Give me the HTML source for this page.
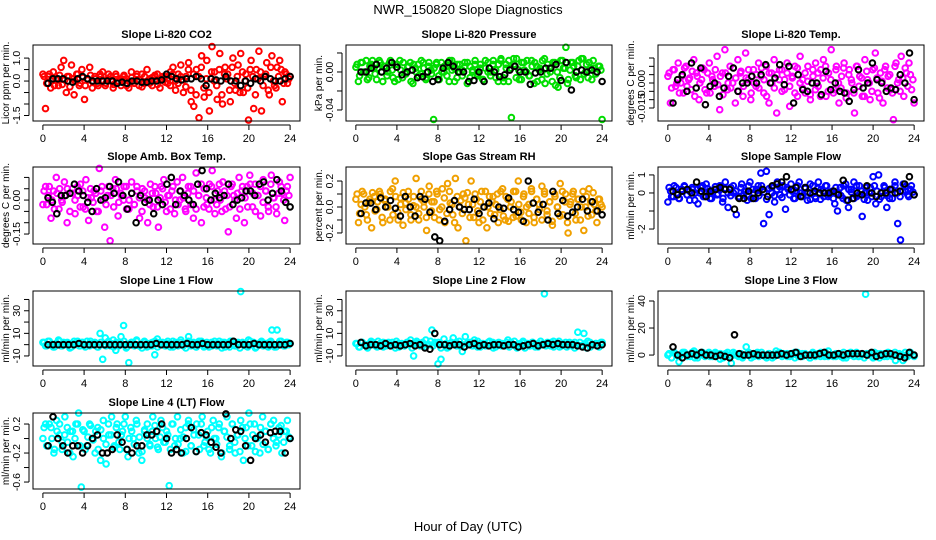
<!DOCTYPE html>
<html><head><meta charset="utf-8"><title>NWR_150820 Slope Diagnostics</title>
<style>
body{margin:0;background:#fff;}
svg{display:block;font-family:"Liberation Sans",sans-serif;}
</style></head>
<body>
<svg id="chart" width="936" height="540" viewBox="0 0 936 540" xmlns="http://www.w3.org/2000/svg">
<rect x="0" y="0" width="936" height="540" fill="#fff"/>
<text x="468" y="14" text-anchor="middle" font-size="13">NWR_150820  Slope Diagnostics</text>
<text x="468" y="531" text-anchor="middle" font-size="13">Hour of Day (UTC)</text>
</svg>
<script>
const xTicks = [0,4,8,12,16,20,24];
const panelTitles = ["Slope Li-820 CO2","Slope Li-820 Pressure","Slope Li-820 Temp.","Slope Amb. Box Temp.","Slope Gas Stream RH","Slope Sample Flow","Slope Line 1 Flow","Slope Line 2 Flow","Slope Line 3 Flow","Slope Line 4 (LT) Flow"];
const yTitles = ["Licor ppm per min.","kPa per min.","degrees C per min.","degrees C per min.","percent per min.","ml/min per min.","ml/min per min.","ml/min per min.","ml/min per min.","ml/min per min."];
const yRanges = [[-1.74,1.57],[-0.0516,0.0284],[-0.0228,0.0228],[-0.194,0.146],[-0.285,0.308],[-2.83,1.44],[-18.9,47.5],[-18.9,47.5],[-8.1,47.4],[-0.696,0.352]];
const yTickVals = [[-1.5,-1,-0.5,0,0.5,1],[-0.04,-0.02,0,0.02],[-0.015,-0.01,-0.005,0,0.005,0.01,0.015],[-0.15,-0.1,-0.05,0,0.05,0.1],[-0.2,-0.1,0,0.1,0.2],[-2,-1,0,1],[-10,0,10,20,30,40],[-10,0,10,20,30,40],[0,20,40],[-0.6,-0.4,-0.2,0,0.2]];
const yTickLabels = [["-1.5","","","0.0","","1.0"],["-0.04","","0.00",""],["-0.015","","","0.000","","",""],["-0.15","","","0.00","",""],["-0.2","","0.0","","0.2"],["-2","","0","1"],["-10","","10","","30",""],["-10","","10","","30",""],["0","20","40"],["-0.6","","-0.2","","0.2"]];
const colors = ["#ff0000","#00dd00","#ff00ff","#ff00ff","#f0a000","#0000ff","#00ffff","#00ffff","#00ffff","#00ffff"];

const co2Vals = [0.3,-1.2,0.2,-0.3,0.4,0.1,-0.2,0.6,0.9,-0.5,0.2,0.7,-0.6,0.3,-0.2,0.5,-0.8,0.1,0.6,-0.3,0.2,-0.1,0.3,0.4,-0.2,0.1,0.2,-0.3,0.3,0.0,-0.2,0.2,0.1,-0.3,0.4,0.0,0.2,-0.2,0.3,-0.1,0.5,0.1,-0.2,0.2,0.3,-0.3,0.1,0.2,-0.1,0.4,0.6,-0.4,0.3,0.7,-0.5,0.2,0.8,-0.9,-1.1,0.5,-1.6,1.1,-0.7,0.9,-1.3,1.5,0.4,-0.8,1.2,-1.0,0.6,0.3,-0.9,1.0,-0.4,0.7,1.2,-0.5,0.3,-1.7,0.9,-1.2,0.5,1.3,-1.3,0.2,0.8,-0.6,1.1,-0.2,0.6,0.9,-0.9,0.4,-0.1,0.2];
const co2Band = [0.2,-0.1,0.3,0.0,-0.2,0.1,0.25,-0.15,0.05,0.2,-0.25,0.1,0.0,0.3,-0.1,0.15,-0.2,0.05,0.25,-0.05,0.1,-0.2,0.2,0.0,-0.1,0.3,0.05,-0.15,0.2,-0.05,0.1,0.25,-0.2,0.0,0.15,-0.1,0.3,0.05,-0.25,0.2,0.0,-0.1,0.15,0.25,-0.15,0.05,0.2,-0.05,0.1,-0.2,0.3,0.0,-0.1,0.2,0.05,-0.25,0.5,-0.4,0.3,-0.6,0.2,0.6,-0.3,0.1,-0.5,0.4,0.0,-0.2,0.5,-0.6,0.3,0.1,-0.4,0.6,-0.1,0.2,-0.5,0.4,0.0,-0.3,0.5,0.2,-0.6,0.1,0.4,-0.2,0.3,-0.4,0.6,0.0,-0.3,0.2,0.5,-0.1,0.3,0.1];
const co2Black = [-0.1,0.1,0.1,0.1,0.0,-0.05,0.1,0.2,0.1,0.0,0.0,0.0,0.0,0.0,-0.1,-0.05,-0.1,0.0,0.0,-0.05,-0.05,0.0,0.0,0.05,0.3,0.2,0.1,0.05,0.1,0.1,0.2,0.1,-0.2,0.1,0.05,0.0,0.2,0.0,0.0,-0.2,0.0,-0.1,0.1,0.0,0.2,0.1,0.0,0.0,0.1,0.2];
const presVals = [0.005,-0.01,0.01,0.0,0.012,-0.006,0.008,0.004,-0.008,0.012,0.0,0.006,-0.004,0.01,0.002,-0.01,0.008,0.012,-0.006,0.0,0.005,0.01,-0.012,0.004,0.008,-0.002,0.01,-0.008,0.006,0.002,-0.05,0.008,-0.004,0.01,0.0,0.006,-0.01,0.012,0.004,-0.006,0.008,0.002,0.01,-0.012,0.006,0.0,0.012,-0.004,0.008,-0.008,0.004,0.01,0.0,0.012,-0.006,0.008,0.014,-0.01,0.004,0.012,-0.048,0.008,0.014,-0.008,0.01,0.002,0.012,-0.004,0.006,0.01,-0.01,0.004,0.012,-0.012,0.008,0.0,0.01,-0.014,-0.016,0.012,0.004,0.026,-0.008,0.01,0.006,-0.006,0.012,0.014,-0.002,0.008,0.01,-0.008,0.004,0.0,0.006,-0.05];
const presBand = [0.008,-0.004,0.01,0.0,-0.008,0.006,0.012,-0.002,0.004,0.01,-0.01,0.006,0.0,0.012,-0.006,0.008,-0.008,0.002,0.01,-0.002,0.006,-0.01,0.008,0.0,-0.004,0.012,0.004,-0.006,0.01,-0.002,0.004,0.01,-0.008,0.0,0.006,-0.004,0.012,0.002,-0.01,0.008,0.0,-0.004,0.006,0.01,-0.006,0.002,0.008,-0.002,0.004,-0.008,0.012,0.0,-0.004,0.008,0.002,-0.01,0.012,-0.006,0.008,-0.01,0.004,0.014,-0.006,0.002,-0.008,0.01,0.0,-0.004,0.012,-0.012,0.006,0.002,-0.008,0.014,-0.002,0.004,-0.01,0.01,0.0,-0.006,0.012,0.004,-0.012,0.002,0.01,-0.004,0.006,-0.008,0.014,0.0,-0.006,0.004,0.012,-0.002,0.006,0.002];
const presBlack = [0.0,0.0,0.004,0.008,0.0,0.004,0.01,0.005,-0.003,0.0,0.002,-0.006,-0.005,0.0,-0.01,-0.008,0.004,0.01,0.006,0.0,0.0,-0.01,-0.009,0.0,-0.01,0.004,0.0,-0.005,-0.003,0.002,0.006,0.0,0.0,-0.013,-0.001,0.0,0.004,0.004,0.008,-0.009,0.01,-0.019,0.0,0.002,0.0,0.002,0.0,-0.01];
const tempVals = [0.004,-0.012,0.008,-0.002,0.012,0.0,-0.006,0.01,0.002,-0.004,0.014,0.006,-0.01,0.002,0.008,-0.006,0.012,0.004,-0.002,0.016,-0.016,0.006,0.02,-0.004,0.01,0.0,-0.012,0.014,0.006,-0.008,0.018,0.002,-0.01,0.008,-0.002,0.012,0.004,-0.006,0.01,-0.012,0.006,0.014,-0.018,0.002,0.008,-0.004,0.012,-0.014,0.004,0.01,-0.008,0.016,0.002,-0.006,0.01,-0.01,0.004,0.012,-0.002,0.008,0.014,-0.008,0.006,0.02,-0.004,0.01,-0.012,0.004,0.012,-0.006,0.008,0.0,-0.018,0.01,0.004,-0.008,0.014,0.002,-0.01,0.008,0.018,-0.006,0.006,-0.012,0.01,0.004,-0.004,-0.022,0.012,0.002,0.016,-0.008,0.006,0.012,-0.004,-0.012];
const tempBand = [0.006,-0.003,0.008,0.0,-0.006,0.004,0.009,-0.002,0.003,0.007,-0.008,0.004,0.0,0.009,-0.004,0.006,-0.006,0.002,0.008,-0.001,0.004,-0.007,0.006,0.0,-0.003,0.009,0.003,-0.005,0.007,-0.002,0.003,0.008,-0.006,0.0,0.005,-0.003,0.009,0.002,-0.008,0.006,0.0,-0.003,0.005,0.008,-0.005,0.002,0.006,-0.002,0.003,-0.006,0.009,0.0,-0.003,0.006,0.001,-0.007,0.008,-0.004,0.006,-0.008,0.003,0.01,-0.005,0.002,-0.006,0.008,0.0,-0.003,0.009,-0.009,0.005,0.002,-0.006,0.01,-0.002,0.003,-0.008,0.007,0.0,-0.005,0.009,0.003,-0.009,0.001,0.008,-0.003,0.005,-0.006,0.01,0.0,-0.005,0.003,0.009,-0.002,0.005,0.002];
const tempBlack = [-0.012,0.002,0.005,-0.005,0.012,-0.003,0.009,-0.013,-0.002,0.0,-0.008,-0.003,0.004,0.009,-0.005,0.0,0.0,0.004,0.0,0.005,0.011,0.0,0.003,0.011,-0.001,0.01,-0.012,0.005,-0.004,-0.005,0.0,0.0,-0.007,0.007,-0.004,0.0,-0.005,-0.006,-0.011,-0.004,0.008,-0.003,0.0,0.012,0.002,0.0,-0.005,-0.003,-0.004,0.005,0.0,0.018,-0.01];
const ambVals = [-0.02,0.06,0.02,-0.08,0.04,0.1,-0.04,0.0,0.08,-0.1,0.03,0.05,-0.06,0.02,0.07,-0.03,0.09,-0.09,0.01,0.04,-0.05,0.14,0.06,-0.12,0.02,-0.18,0.05,0.09,-0.07,0.03,0.0,0.06,-0.04,0.08,-0.02,0.04,-0.08,0.05,0.01,-0.1,0.07,-0.03,0.03,-0.12,0.06,0.09,-0.05,0.02,0.04,-0.06,0.08,0.0,0.1,-0.04,0.03,0.06,-0.08,0.12,0.02,-0.1,0.05,-0.02,0.07,0.13,-0.06,0.04,0.0,0.08,-0.04,-0.14,0.06,0.02,-0.08,0.1,0.04,-0.1,0.06,0.11,-0.03,0.07,0.02,-0.07,0.09,0.04,-0.05,0.11,0.01,-0.06,0.08,0.03,-0.09,0.06,0.1];
const ambBand = [0.04,-0.02,0.06,0.0,-0.04,0.03,0.05,-0.01,0.02,0.05,-0.05,0.03,0.0,0.06,-0.03,0.04,-0.04,0.01,0.05,-0.01,0.03,-0.05,0.04,0.0,-0.02,0.06,0.02,-0.03,0.05,-0.01,0.02,0.06,-0.04,0.0,0.03,-0.02,0.06,0.01,-0.05,0.04,0.0,-0.02,0.03,0.06,-0.03,0.01,0.05,-0.01,0.02,-0.04,0.06,0.0,-0.02,0.04,0.01,-0.05,0.06,-0.02,0.04,-0.04,0.02,0.07,-0.03,0.01,-0.04,0.06,0.0,-0.02,0.07,-0.05,0.04,0.02,-0.03,0.07,0.0,0.03,-0.04,0.06,0.01,-0.03,0.07,0.03,-0.05,0.02,0.06,-0.01,0.04,-0.03,0.07,0.01,-0.03,0.03,0.06,0.0,0.04,0.02];
const ambBlack = [0.01,-0.01,-0.06,0.02,0.02,0.03,0.07,0.04,0.02,-0.01,-0.05,0.05,0.0,0.01,0.06,0.03,0.08,0.02,-0.04,0.03,-0.1,0.02,-0.01,0.0,-0.06,0.0,-0.02,0.07,0.1,-0.02,0.04,0.02,0.0,-0.02,0.07,0.13,0.05,0.0,0.03,0.01,0.02,0.07,-0.02,0.0,0.01,0.04,0.04,0.02,0.07,0.08,0.0,0.03,0.09,0.04,-0.01,-0.03];
const rhVals = [0.06,-0.12,0.02,0.1,-0.06,0.04,-0.16,0.08,-0.02,0.12,-0.08,0.05,0.0,-0.1,0.14,0.2,-0.04,0.07,-0.14,0.03,0.12,-0.06,0.01,0.22,-0.1,0.06,0.0,-0.18,0.16,0.04,-0.08,0.1,-0.02,0.14,-0.12,0.18,0.03,-0.06,0.22,-0.16,0.05,0.1,-0.26,0.02,0.2,-0.08,0.06,-0.12,0.12,0.0,-0.16,0.08,0.04,-0.06,0.1,-0.02,0.14,-0.1,0.06,0.0,-0.08,0.12,0.2,-0.04,0.08,-0.12,0.02,0.14,-0.08,0.06,-0.02,0.16,0.1,-0.06,0.04,-0.14,0.08,0.0,0.18,-0.06,0.1,-0.2,0.04,0.12,-0.1,0.06,0.0,-0.18,0.08,0.14,-0.06,0.02,-0.12,0.06,0.0];
const rhBand = [0.1,-0.05,0.12,0.0,-0.1,0.06,0.11,-0.03,0.04,0.1,-0.12,0.06,0.0,0.12,-0.06,0.08,-0.1,0.02,0.11,-0.02,0.06,-0.1,0.08,0.0,-0.05,0.12,0.04,-0.08,0.1,-0.03,0.04,0.12,-0.1,0.0,0.07,-0.05,0.12,0.02,-0.12,0.08,0.0,-0.05,0.07,0.11,-0.08,0.02,0.1,-0.03,0.04,-0.1,0.12,0.0,-0.05,0.08,0.02,-0.12,0.12,-0.07,0.08,-0.11,0.04,0.12,-0.07,0.02,-0.1,0.1,0.0,-0.05,0.12,-0.12,0.06,0.02,-0.1,0.12,-0.03,0.04,-0.11,0.1,0.0,-0.07,0.12,0.04,-0.12,0.02,0.1,-0.05,0.06,-0.1,0.12,0.0,-0.07,0.04,0.11,-0.03,0.06,0.02];
const rhBlack = [-0.05,0.03,0.03,-0.02,0.07,0.0,0.05,-0.01,-0.07,0.08,0.0,-0.07,0.08,0.06,-0.04,-0.23,-0.26,-0.11,-0.02,0.05,0.0,-0.02,-0.02,0.06,-0.05,0.0,0.03,-0.09,0.0,-0.01,0.07,-0.02,-0.04,-0.11,0.2,0.03,-0.04,0.02,-0.1,0.12,-0.05,0.05,-0.07,-0.04,0.0,0.06,-0.03,0.04,-0.03,-0.06];
const flowVals = [-0.5,0.1,-0.2,0.3,-0.3,0.2,0.4,-0.1,-0.4,0.2,0.0,-0.6,0.3,-0.2,0.5,0.1,-0.3,0.2,-0.1,0.4,-0.5,0.6,-0.8,0.3,0.0,-1.2,-0.2,0.5,0.1,-0.4,0.6,0.2,-0.3,0.4,1.1,-1.7,1.2,-1.2,0.3,-0.5,0.6,-0.1,0.4,-0.9,0.2,0.5,-0.3,0.1,0.6,-0.2,0.3,-0.4,0.5,0.0,-0.3,0.6,0.2,-0.2,0.4,-0.1,0.1,-0.6,-1.0,0.3,-0.3,0.5,-0.8,0.2,0.6,-0.2,0.4,-1.3,0.0,-0.4,0.3,0.9,-0.6,1.0,-0.2,0.4,-0.8,-0.3,0.2,0.6,-1.7,-2.6,0.5,0.1,-0.2,0.4,-0.1];
const flowBand = [0.3,-0.2,0.4,0.0,-0.3,0.2,0.35,-0.1,0.1,0.3,-0.4,0.2,0.0,0.4,-0.2,0.25,-0.3,0.05,0.35,-0.05,0.2,-0.3,0.25,0.0,-0.15,0.4,0.1,-0.25,0.3,-0.1,0.1,0.4,-0.3,0.0,0.2,-0.15,0.4,0.05,-0.35,0.25,0.0,-0.15,0.2,0.35,-0.25,0.05,0.3,-0.1,0.1,-0.3,0.4,0.0,-0.15,0.25,0.05,-0.35,0.4,-0.2,0.25,-0.35,0.1,0.4,-0.2,0.05,-0.3,0.3,0.0,-0.15,0.4,-0.4,0.2,0.05,-0.3,0.4,-0.1,0.1,-0.35,0.3,0.0,-0.2,0.4,0.1,-0.35,0.05,0.3,-0.15,0.2,-0.3,0.4,0.0,-0.2,0.1,0.35,-0.1,0.2,0.05];
const flowBlack = [0.1,-0.1,0.1,0.2,0.0,0.6,0.1,-0.2,0.1,0.2,0.3,0.2,0.2,-0.9,-0.3,-0.3,0.1,-0.3,0.0,0.2,-0.2,0.4,0.5,0.6,0.9,0.2,0.3,-0.2,0.3,0.0,0.1,0.0,0.0,0.0,0.1,-0.1,0.7,-0.4,-0.3,0.0,-0.1,0.4,0.0,-0.2,0.0,0.0,0.2,0.0,0.1,0.5,0.9,-0.1];
const line1Vals = [2,-1,3,0,-2,1,4,-1,2,0,1,-2,3,1,-1,2,0,3,-1,1,2,-2,10,-13,6,2,-1,4,-5,0,7,17,-3,-16,2,1,4,-1,0,3,-2,1,-1,-9,5,2,0,-1,3,1,-2,2,0,4,-1,1,7,2,0,-2,3,1,-1,2,0,-1,3,1,0,2,-2,1,3,0,-1,2,47,1,-1,4,0,2,-2,1,3,0,-1,2,13,-2,13,3,0,-1,2,1];
const line1Band = [2,-1,3,0,-2,1,3,-1,1,2,-3,1,0,3,-1,2,-2,0,3,0,1,-2,2,0,-1,3,1,-2,2,-1,1,3,-2,0,2,-1,3,0,-3,2,0,-1,2,3,-2,0,2,-1,1,-2,3,0,-1,2,0,-3,3,-1,2,-2,1,3,-2,0,-2,2,0,-1,3,-3,2,0,-2,3,-1,1,-3,2,0,-2,3,1,-3,0,2,-1,1,-2,3,0,-2,1,3,-1,2,0];
const line1Black = [0,0,0,0,0,0,1,0,0,0,0,0,0,0,0,0,0,0,0,0,0,1,0,0,0,0,0,1,0,0,1,0,0,0,0,0,3,0,0,0,1,0,0,0,0,0,0,1];
const line2Vals = [1,-2,2,0,-1,3,0,-2,1,2,-1,0,2,-3,1,0,-1,2,4,-10,3,1,-1,4,0,13,2,-17,-13,5,-3,1,6,2,-1,-6,7,0,2,4,-2,1,0,-1,3,2,-2,0,1,-1,4,2,0,-3,1,3,0,-1,2,-2,1,0,45,2,-1,3,0,-2,1,2,0,-1,2,11,-1,10,-3,2,0,1,-2,2];
const line2Band = [1,-2,2,0,-3,1,2,-1,3,0,-2,1,2,-1,0,3,-2,1,-1,2,0,-3,2,1,-1,2,-2,0,3,-1,1,2,-3,0,1,-2,2,1,-1,3,0,-2,1,2,-1,0,3,-2,1,-1,2,0,-3,1,2,-1,0,2,-2,1,3,-1,0,2,-3,1,-1,2,0,-2,3,1,-1,0,2,-2,1,3,-1,0,-2,2,1,-3,0,2,-1,1,3,-2,0,1,-1,2];
const line2Black = [2,-1,0,0,-1,1,-1,0,-1,0,1,-1,0,-3,-4,10,0,0,-1,0,0,-2,0,1,-1,0,-1,0,0,-1,0,0,-2,-1,0,1,-1,0,1,0,1,0,0,0,-1,-2,-3,0,-1,0];
const line3Vals = [0,-2,1,-5,2,0,-1,3,-2,1,0,2,-1,1,-3,0,2,-6,1,0,-2,6,1,-1,2,0,-1,1,-2,3,0,1,-1,0,2,-1,1,0,-2,1,0,2,-1,3,0,-1,1,-2,0,2,1,-1,0,45,1,-2,0,1,-1,2,0,-4,1,-4,0,2,-1];
const line3Band = [1,-2,2,0,-1,1,2,-1,0,2,-2,1,0,2,-1,1,-1,0,2,0,1,-2,1,0,-1,2,0,-1,1,-1,0,2,-2,0,1,-1,2,0,-2,1,0,-1,1,2,-1,0,1,-1,0,-2,2,0,-1,1,0,-2,2,-1,1,-1,0,2,-1,0,-1,1,0,-1,2,-2,1,0,-1,2,-1,0,-2,1,0,-1,2,1,-2,0,1,-1,0,-1,2,0,-1,0,2,-1,1,0];
const line3Black = [6,0,-2,0,1,0,2,0,0,-1,0,-1,-2,15,1,0,0,1,0,0,0,0,0,1,0,1,2,-1,0,0,0,1,2,0,0,1,0,1,1,1,1,0,2,-1,0,1,1,0,-1,-2,2,0];
const line4Vals = [0.0,0.2,-0.1,0.15,-0.2,0.25,0.05,-0.15,0.3,-0.05,0.1,-0.25,0.2,0.35,-0.67,0.1,-0.1,0.2,0.0,-0.2,0.15,-0.3,0.25,-0.35,0.05,0.3,-0.1,0.2,-0.15,0.1,0.3,-0.25,0.15,0.0,0.25,-0.2,-0.3,0.1,0.2,-0.1,0.3,0.0,-0.15,0.25,-0.05,0.1,-0.65,0.2,-0.1,0.3,0.0,-0.2,0.15,0.25,-0.1,0.05,0.2,-0.15,0.3,-0.05,0.1,-0.2,0.25,0.0,0.15,-0.25,0.1,0.3,-0.1,0.2,-0.2,0.05,0.25,-0.3,0.15,0.35,-0.1,0.2,0.0,-0.2,0.3,0.1,-0.15,0.2,0.25,-0.05,0.15,-0.2,0.1,0.25,0.0];
const line4Band = [0.15,-0.1,0.2,0.0,-0.15,0.1,0.2,-0.05,0.05,0.15,-0.2,0.1,0.0,0.2,-0.1,0.12,-0.15,0.02,0.18,-0.02,0.1,-0.15,0.12,0.0,-0.08,0.2,0.05,-0.12,0.15,-0.05,0.05,0.2,-0.15,0.0,0.1,-0.08,0.2,0.02,-0.18,0.12,0.0,-0.08,0.1,0.18,-0.12,0.02,0.15,-0.05,0.05,-0.15,0.2,0.0,-0.08,0.12,0.02,-0.18,0.2,-0.1,0.12,-0.18,0.05,0.2,-0.1,0.02,-0.15,0.15,0.0,-0.08,0.2,-0.2,0.1,0.02,-0.15,0.2,-0.05,0.05,-0.18,0.15,0.0,-0.1,0.2,0.05,-0.18,0.02,0.15,-0.08,0.1,-0.15,0.2,0.0,-0.1,0.05,0.18,-0.05,0.1,0.02];
const line4Black = [-0.1,0.3,0.0,-0.1,-0.2,-0.1,-0.1,-0.2,-0.1,0.0,0.05,-0.2,-0.2,-0.15,0.05,-0.05,-0.15,-0.2,-0.1,-0.1,0.05,0.05,0.1,0.2,0.0,-0.2,-0.15,-0.2,0.0,0.15,-0.18,0.08,0.05,-0.05,-0.12,-0.2,0.34,0.0,0.12,0.1,-0.1,-0.3,0.0,0.05,-0.05,0.08,0.1,0.1,-0.2,0.0];

const colorSeries = [co2Vals,presVals,tempVals,ambVals,rhVals,flowVals,line1Vals,line2Vals,line3Vals,line4Vals];
const bandSeries = [co2Band,presBand,tempBand,ambBand,rhBand,flowBand,line1Band,line2Band,line3Band,line4Band];
const blackSeries = [co2Black,presBlack,tempBlack,ambBlack,rhBlack,flowBlack,line1Black,line2Black,line3Black,line4Black];
const panelKeys = ["co2","pressure","li820-temp","amb-box-temp","gas-rh","sample-flow","line1-flow","line2-flow","line3-flow","line4-flow"];

const svg = document.getElementById('chart');
const NS = "http://www.w3.org/2000/svg";
const colL = [33,346,658], colR = [300,612,924];
const rowT = [45,167,291,413], rowB = [121,244,366,489];

function mk(tag, attrs, parent){
  const e = document.createElementNS(NS, tag);
  for (const k in attrs) e.setAttribute(k, attrs[k]);
  parent.appendChild(e);
  return e;
}

for (let p = 0; p < 10; p++) {
  const L = colL[p%3], R = colR[p%3], T = rowT[Math.floor(p/3)], B = rowB[Math.floor(p/3)];
  const [ymin, ymax] = yRanges[p];
  const xs = h => L + (h + 0.96) / 25.92 * (R - L);
  const ys = v => B - (v - ymin) / (ymax - ymin) * (B - T);
  const g = mk('g', {}, svg);
  
  

  const title = mk('text', {x:(L+R)/2, y:T-7, 'text-anchor':'middle', 'font-size':'11', 'font-weight':'bold'}, g);
  title.textContent = panelTitles[p];
  
  

  const cg = mk('g', {fill:'none', stroke:colors[p], 'stroke-width':'2'}, g);
  
  
  const dv = bandSeries[p];
  dv.forEach((v, i) => {
    const h = 0.12 + i * 23.76 / (dv.length - 1);
    const c = mk('circle', {cx:xs(h).toFixed(1), cy:ys(v).toFixed(1), r:'2.8'}, cg);
    
    
  });
  const cv = colorSeries[p];
  cv.forEach((v, i) => {
    const h = i * 24 / (cv.length - 1);
    const c = mk('circle', {cx:xs(h).toFixed(1), cy:ys(v).toFixed(1), r:'2.8'}, cg);
    
    
  });
  const bv = blackSeries[p];
  const bg = mk('g', {fill:'none', stroke:'#000', 'stroke-width':'2'}, g);
  
  
  bv.forEach((v, i) => {
    const h = 0.5 + i * 23.5 / (bv.length - 1);
    const c = mk('circle', {cx:xs(h).toFixed(1), cy:ys(v).toFixed(1), r:'2.8'}, bg);
    
    
  });

  const fr = mk('rect', {x:L, y:T, width:R-L, height:B-T, fill:'none', stroke:'#000', 'stroke-width':'1'}, g);
  
  

  const xa = mk('g', {}, g);
  
  
  mk('line', {x1:xs(0), x2:xs(24), y1:B+4, y2:B+4, stroke:'#000'}, xa);
  xTicks.forEach(t => {
    mk('line', {x1:xs(t), x2:xs(t), y1:B+4, y2:B+9, stroke:'#000'}, xa);
    const tx = mk('text', {x:xs(t), y:B+21, 'text-anchor':'middle', 'font-size':'11'}, xa);
    tx.textContent = t;
    
    
  });

  const ya = mk('g', {}, g);
  
  
  const tv = yTickVals[p];
  mk('line', {x1:L-4, x2:L-4, y1:ys(tv[0]), y2:ys(tv[tv.length-1]), stroke:'#000'}, ya);
  tv.forEach((t, i) => {
    const y = ys(t);
    mk('line', {x1:L-9, x2:L-4, y1:y, y2:y, stroke:'#000'}, ya);
    const lab = yTickLabels[p][i];
    if (lab) {
      const tx = mk('text', {x:L-13, y:y, 'text-anchor':'middle', 'font-size':'10.5', transform:`rotate(-90 ${L-13} ${y})`}, ya);
      tx.textContent = lab;
      
      
    }
  });
  const yt = mk('text', {x:L-24, y:(T+B)/2, 'text-anchor':'middle', 'font-size':'10', transform:`rotate(-90 ${L-24} ${(T+B)/2})`}, g);
  yt.textContent = yTitles[p];
  
  
}
</script>
</body></html>
